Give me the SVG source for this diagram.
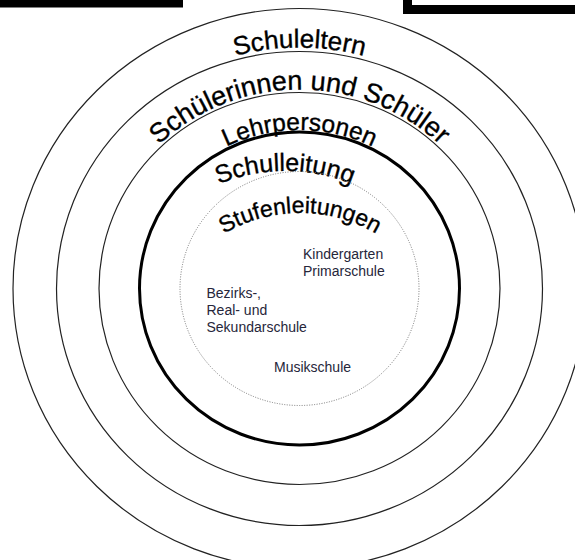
<svg xmlns="http://www.w3.org/2000/svg" xmlns:xlink="http://www.w3.org/1999/xlink" width="575" height="560" viewBox="0 0 575 560">
<style>
.ring{fill:none;stroke:#222;stroke-width:1.2}
.thick{fill:none;stroke:#000;stroke-width:3}
.dots{fill:none;stroke:#777;stroke-width:1;stroke-dasharray:1 1.5}
.arc{font-family:"Liberation Sans",Arial,sans-serif;fill:#000;stroke:#000;stroke-width:0.35;text-anchor:middle}
.lbl{font-family:"Liberation Sans",Arial,sans-serif;font-size:14px;fill:#26263a}
</style>
<defs>
<path id="p1" d="M53.5 288.5 A246 241 0 0 1 545.5 288.5"/>
<path id="p2" d="M96.5 288.5 A203 199 0 0 1 502.5 288.5"/>
<path id="p3" d="M135.5 288.5 A164 158.5 0 0 1 463.5 288.5"/>
<path id="p4" d="M110 346 A175 175 0 0 1 460 346"/>
<path id="p5" d="M150 363 A150 150 0 0 1 450 363"/>
</defs>
<rect width="575" height="560" fill="#fff"/>
<g id="corner-marks">
<rect x="0" y="0" width="183" height="7.5" fill="#000"/>
<rect x="403" y="0" width="172" height="14" fill="#000"/>
<rect x="412" y="0" width="163" height="5" fill="#fff"/>
</g>
<g id="schuleltern">
<ellipse class="ring" cx="299.5" cy="288.5" rx="286.5" ry="280"/>
<text class="arc" font-size="26"><textPath xlink:href="#p1" href="#p1" startOffset="50%">Schuleltern</textPath></text>
</g>
<g id="schueler">
<ellipse class="ring" cx="299.5" cy="288.5" rx="243" ry="237"/>
<text class="arc" font-size="27"><textPath xlink:href="#p2" href="#p2" startOffset="50%">Schülerinnen und Schüler</textPath></text>
</g>
<g id="lehrpersonen">
<ellipse class="ring" cx="299.5" cy="288.5" rx="200.5" ry="196"/>
<text class="arc" font-size="24.5"><textPath xlink:href="#p3" href="#p3" startOffset="50%">Lehrpersonen</textPath></text>
</g>
<g id="schulleitung">
<ellipse class="thick" cx="299.5" cy="288.5" rx="160" ry="156.5"/>
<text class="arc" font-size="25"><textPath xlink:href="#p4" href="#p4" startOffset="50%">Schulleitung</textPath></text>
</g>
<g id="stufenleitungen">
<ellipse class="dots" cx="299.5" cy="288.5" rx="119.5" ry="117"/>
<text class="arc" font-size="23"><textPath xlink:href="#p5" href="#p5" startOffset="50%">Stufenleitungen</textPath></text>
</g>
<g id="kindergarten">
<text class="lbl" x="303" y="259">Kindergarten</text>
<text class="lbl" x="303" y="275.5">Primarschule</text>
</g>
<g id="bezirksschule">
<text class="lbl" x="206.5" y="298">Bezirks-,</text>
<text class="lbl" x="206.5" y="315">Real- und</text>
<text class="lbl" x="206.5" y="331.5">Sekundarschule</text>
</g>
<g id="musikschule">
<text class="lbl" x="274" y="371.5">Musikschule</text>
</g>
</svg>
